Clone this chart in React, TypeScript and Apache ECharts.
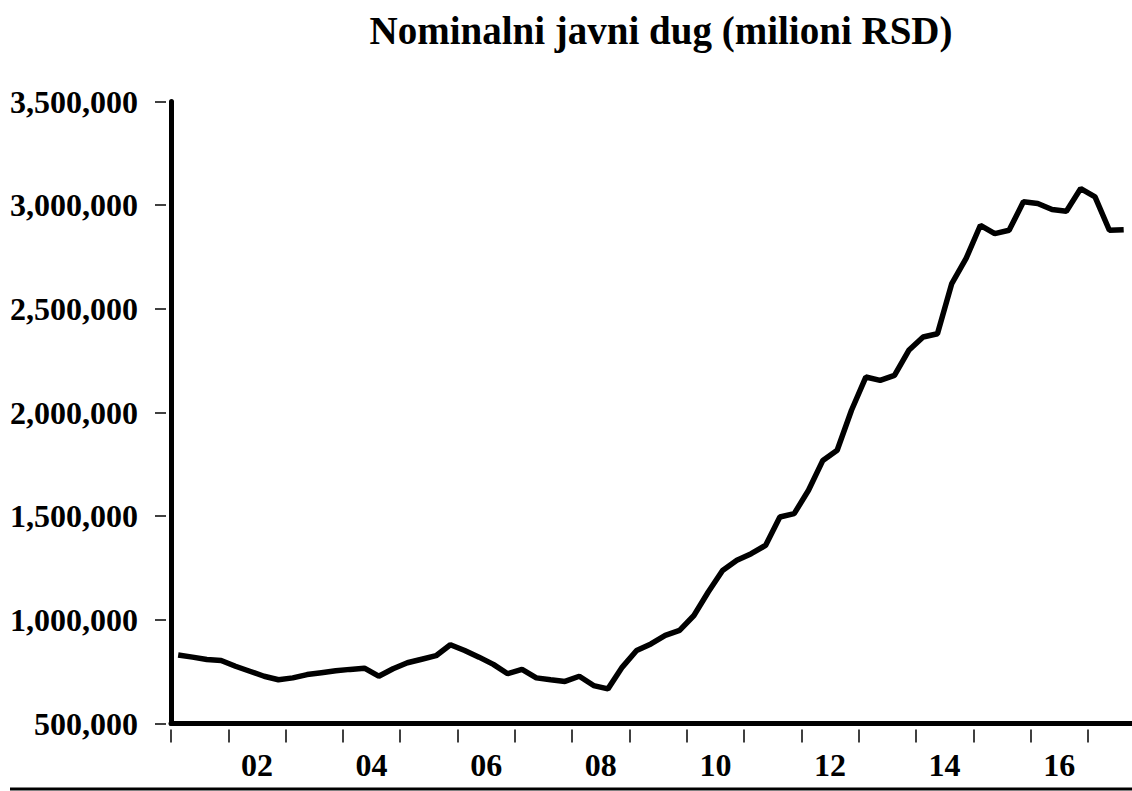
import React, { useEffect, useRef } from "react";
import * as echarts from "echarts";

const title = "Nominalni javni dug (milioni RSD)";
const startYear = 2001;
// quarterly nominal public debt, 2001 Q1 .. 2017 Q3 (million RSD)
const debt = [
  830000, 820000, 809000, 804000,
  776000, 752000, 728000, 711000,
  720000, 736000, 745000, 754000,
  761000, 767000, 728000, 764000,
  793000, 810000, 827000, 880000,
  852000, 820000, 785000, 740000,
  761000, 720000, 711000, 703000,
  728000, 683000, 667000, 772000,
  852000, 884000, 925000, 949000,
  1021000, 1134000, 1238000, 1287000,
  1319000, 1359000, 1496000, 1512000,
  1625000, 1769000, 1818000, 2011000,
  2171000, 2155000, 2179000, 2300000,
  2364000, 2380000, 2622000, 2743000,
  2903000, 2863000, 2879000, 3016000,
  3008000, 2979000, 2971000, 3080000,
  3040000, 2879000, 2882000,
];
const tickYears = [2001, 2002, 2003, 2004, 2005, 2006, 2007, 2008, 2009, 2010, 2011, 2012, 2013, 2014, 2015, 2016, 2017];
const labelYears = [2002, 2004, 2006, 2008, 2010, 2012, 2014, 2016];
const yTicks = [500000, 1000000, 1500000, 2000000, 2500000, 3000000, 3500000];

const FONT = "'Liberation Serif', 'Times New Roman', serif";

export default function App() {
  const ref = useRef<HTMLDivElement>(null);
  useEffect(() => {
    if (!ref.current) return;
    const chart = echarts.init(ref.current, null, { renderer: "svg" });
    const points = debt.map((v, i) => [startYear + Math.floor(i / 4) + ((i % 4) + 0.5) / 4, v]);
    const xMin = startYear;
    const xMax = 2017.77;
    const yMin = yTicks[0];
    const yMax = yTicks[yTicks.length - 1];
    const yInterval = yTicks[1] - yTicks[0];
    chart.setOption({
      animation: false,
      backgroundColor: "#ffffff",
      title: {
        text: title,
        left: 656,
        textAlign: "center",
        top: 6,
        textStyle: { fontFamily: FONT, fontWeight: "bold", fontSize: 39, color: "#000" },
      },
      grid: { left: 171, right: 0, top: 101.5, bottom: 67.5, containLabel: false },
      xAxis: [
        {
          type: "value",
          min: xMin,
          max: xMax,
          position: "bottom",
          axisLine: { show: true, lineStyle: { color: "#000", width: 5 } },
          axisTick: { show: false },
          splitLine: { show: false },
          axisLabel: {
            show: true,
            customValues: labelYears.map((y) => y + 0.5),
            formatter: (v: number) => String(Math.floor(v) % 100).padStart(2, "0"),
            margin: 25,
            fontFamily: FONT,
            fontWeight: "bold",
            fontSize: 32,
            color: "#000",
          },
        },
        {
          type: "value",
          min: xMin,
          max: xMax,
          position: "bottom",
          offset: 6,
          axisLine: { show: false },
          axisTick: { show: true, customValues: tickYears, length: 13, lineStyle: { color: "#000", width: 1.5 } },
          axisLabel: { show: false },
          splitLine: { show: false },
        },
      ],
      yAxis: [
        {
          type: "value",
          min: yMin,
          max: yMax,
          interval: yInterval,
          position: "left",
          axisLine: { show: true, lineStyle: { color: "#000", width: 5 } },
          axisTick: { show: false },
          axisLabel: { show: false },
          splitLine: { show: false },
        },
        {
          type: "value",
          min: yMin,
          max: yMax,
          interval: yInterval,
          position: "left",
          offset: 5,
          axisLine: { show: false },
          axisTick: { show: true, length: 11, lineStyle: { color: "#000", width: 1.5 } },
          axisLabel: {
            show: true,
            margin: 28,
            formatter: (v: number) => v.toLocaleString("en-US"),
            fontFamily: FONT,
            fontWeight: "bold",
            fontSize: 32,
            color: "#000",
          },
          splitLine: { show: false },
        },
      ],
      graphic: [
        {
          type: "line",
          shape: { x1: 10, y1: 789, x2: 1132, y2: 789 },
          style: { stroke: "#000", lineWidth: 3 },
        },
      ],
      series: [
        {
          type: "line",
          xAxisIndex: 0,
          yAxisIndex: 0,
          data: points,
          showSymbol: false,
          symbol: "none",
          lineStyle: { color: "#000", width: 5.5 },
        },
      ],
    });
    return () => chart.dispose();
  }, []);
  return <div ref={ref} style={{ position: "absolute", left: 0, top: 0, width: 1132, height: 791 }} />;
}
